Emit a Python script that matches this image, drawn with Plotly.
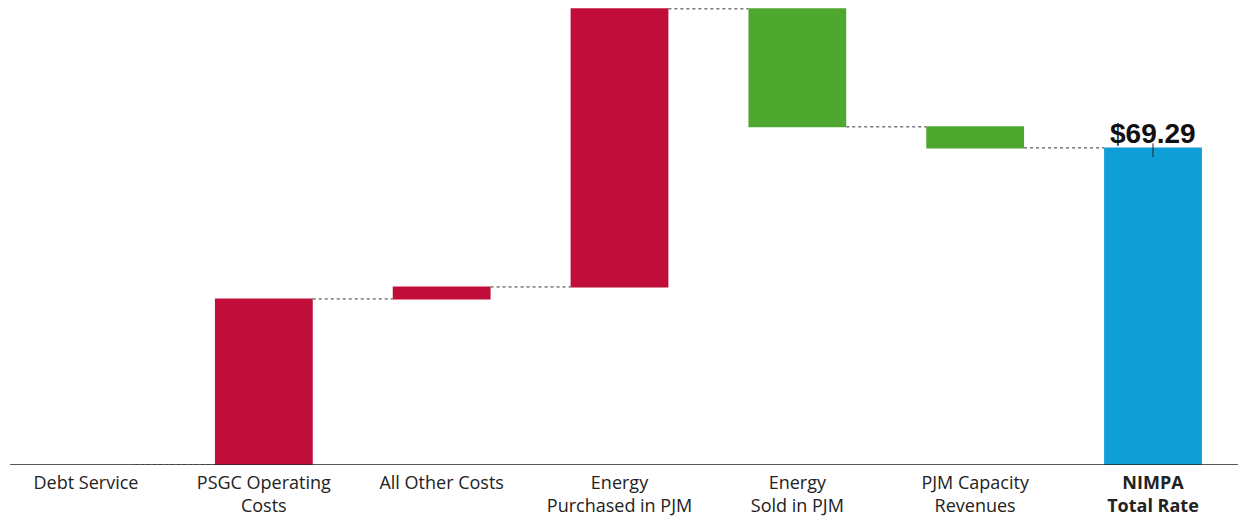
import plotly.graph_objects as go

categories = ["Debt Service", "PSGC Operating Costs", "All Other Costs",
              "Energy Purchased in PJM", "Energy Sold in PJM",
              "PJM Capacity Revenues", "NIMPA Total Rate"]
tick_labels = ["Debt Service", "PSGC Operating<br>Costs", "All Other Costs",
               "Energy<br>Purchased in PJM", "Energy<br>Sold in PJM",
               "PJM Capacity<br>Revenues", "<b>NIMPA</b><br><b>Total Rate</b>"]
values = [0.0, 36.28, 2.62, 60.77, -25.79, -4.59, 69.29]
measures = ["relative"] * 6 + ["total"]
total_label = "<b>$69.29</b>"

fig = go.Figure(go.Waterfall(
    x=categories, y=values, measure=measures,
    width=0.55,
    increasing=dict(marker=dict(color="#C00D3A")),
    decreasing=dict(marker=dict(color="#4EA72E")),
    totals=dict(marker=dict(color="#0F9ED5")),
    connector=dict(line=dict(color="#333333", width=1, dash="dot")),
    hoverinfo="skip",
))

fig.add_annotation(x=categories[-1], y=values[-1], text=total_label,
                   showarrow=False, yanchor="bottom", yshift=-3,
                   font=dict(family="Liberation Sans, Arial", size=28, color="#111111"))
fig.add_shape(type="line", x0=6, x1=6, y0=values[-1] - 2, y1=values[-1] + 1,
              xref="x", yref="y", line=dict(color="#222222", width=1))
fig.add_shape(type="line", xref="paper", yref="y", x0=10/1238, x1=1.0, y0=0, y1=0,
              line=dict(color="#222222", width=1.5))

fig.update_layout(
    width=1238, height=519,
    margin=dict(l=0, r=0, t=0, b=54),
    plot_bgcolor="white", paper_bgcolor="white",
    showlegend=False,
    font=dict(family="Open Sans", size=18, color="#222222"),
    xaxis=dict(tickmode="array", tickvals=categories, ticktext=tick_labels,
               range=[-0.4836, 6.478], showgrid=False, showline=False,
               ticks="", zeroline=False, fixedrange=True, ticklabelstandoff=5),
    yaxis=dict(range=[0, 101.6], visible=False, showgrid=False,
               zeroline=False, fixedrange=True),
)

fig.write_html("out.html")
